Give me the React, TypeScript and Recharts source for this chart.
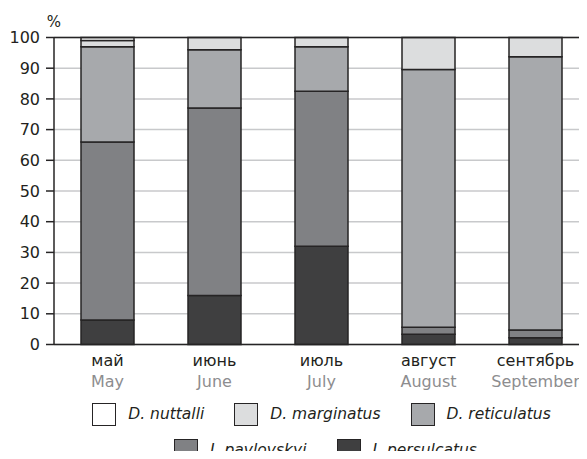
import React from 'react';
import { BarChart, Bar, XAxis, YAxis, CartesianGrid, ReferenceLine, Legend } from 'recharts';

const monthsRu = ['май', 'июнь', 'июль', 'август', 'сентябрь'];
const monthsEn = ['May', 'June', 'July', 'August', 'September'];
const persulcatus = [8, 16, 32, 3.3, 2.2];
const pavlovskyi = [58, 61, 50.5, 2.3, 2.5];
const reticulatus = [31, 19, 14.5, 84, 89];
const marginatus = [2, 4, 3, 10.4, 6.3];
const nuttalli = [1, 0, 0, 0, 0];
const yTicks = [0, 10, 20, 30, 40, 50, 60, 70, 80, 90, 100];
const legendOrder = ['D. nuttalli', 'D. marginatus', 'D. reticulatus', 'I. pavlovskyi', 'I. persulcatus'];

const series = [
  { key: 'persulcatus', name: 'I. persulcatus', color: '#3f3f40', values: persulcatus },
  { key: 'pavlovskyi', name: 'I. pavlovskyi', color: '#808184', values: pavlovskyi },
  { key: 'reticulatus', name: 'D. reticulatus', color: '#a7a9ac', values: reticulatus },
  { key: 'marginatus', name: 'D. marginatus', color: '#dcddde', values: marginatus },
  { key: 'nuttalli', name: 'D. nuttalli', color: '#ffffff', values: nuttalli },
];

const data = monthsRu.map((m, i) => {
  const row: any = { month: m, en: monthsEn[i] };
  series.forEach((s) => { row[s.key] = s.values[i]; });
  return row;
});

const DARK = '#262425';
const FONT = '"DejaVu Sans", sans-serif';

const MonthTick = (props: any) => {
  const { x, y, payload, index } = props;
  return (
    <g>
      <text x={x} y={y + 21.5} textAnchor="middle" fontSize={16} fill="#231f20" fontFamily={FONT}>
        {payload.value}
      </text>
      <text x={x} y={y + 42.5} textAnchor="middle" fontSize={16} fill="#8d8d8f" fontFamily={FONT}>
        {monthsEn[index]}
      </text>
    </g>
  );
};

const LegendContent = (props: any) => {
  const items = [...(props.payload || [])].sort(
    (a: any, b: any) => legendOrder.indexOf(a.value) - legendOrder.indexOf(b.value)
  );
  const rows = [items.slice(0, 3), items.slice(3)];
  return (
    <div style={{ height: 60, fontFamily: FONT }}>
      {rows.map((row, ri) => (
        <div
          key={ri}
          style={{
            display: 'flex',
            justifyContent: 'center',
            gap: 30,
            height: 36,
            alignItems: 'flex-start',
            paddingLeft: ri === 1 ? 8 : 0,
          }}
        >
          {row.map((it: any) => (
            <div key={it.value} style={{ display: 'flex', alignItems: 'center' }}>
              <div
                style={{
                  width: 24,
                  height: 23,
                  boxSizing: 'border-box',
                  border: `1.5px solid ${DARK}`,
                  background: it.color,
                  marginRight: 12,
                }}
              />
              <span style={{ fontStyle: 'italic', fontSize: 15.5, color: '#231f20', lineHeight: '23px' }}>
                {it.value}
              </span>
            </div>
          ))}
        </div>
      ))}
    </div>
  );
};

export default function App() {
  return (
    <div style={{ margin: -8, width: 587, height: 459, overflow: 'hidden', background: '#fff' }}>
      <BarChart
        width={595}
        height={459}
        data={data}
        margin={{ top: 37.5, right: 6, bottom: 0, left: 0 }}
        style={{ fontFamily: FONT }}
      >
        <CartesianGrid horizontal vertical={false} stroke="#c8c9cb" strokeWidth={1.5} />
        <XAxis
          dataKey="month"
          height={54.5}
          tickLine={false}
          tickSize={0}
          tickMargin={0}
          axisLine={{ stroke: DARK, strokeWidth: 1.5 }}
          tick={<MonthTick />}
          interval={0}
        />
        <YAxis
          width={54}
          domain={[0, 100]}
          ticks={yTicks}
          tickSize={8}
          tickMargin={6}
          interval={0}
          axisLine={{ stroke: DARK, strokeWidth: 1.5 }}
          tickLine={{ stroke: DARK, strokeWidth: 1.5 }}
          tick={{ fontSize: 16, fill: '#231f20', fontFamily: FONT }}
        />
        <ReferenceLine
          y={100}
          stroke={DARK}
          strokeWidth={1.5}
          label={(p: any) => (
            <text x={p.viewBox.x} y={p.viewBox.y - 11} textAnchor="middle" fontSize={15} fill="#231f20" fontFamily={FONT}>
              %
            </text>
          )}
        />
        {series.map((s) => (
          <Bar
            key={s.key}
            dataKey={s.key}
            name={s.name}
            stackId="a"
            fill={s.color}
            stroke={DARK}
            strokeWidth={1.5}
            barSize={53}
            isAnimationActive={false}
          />
        ))}
        <Legend
          content={<LegendContent />}
          wrapperStyle={{ position: 'absolute', left: 54, top: 403, width: 535, height: 60 }}
        />
      </BarChart>
    </div>
  );
}
